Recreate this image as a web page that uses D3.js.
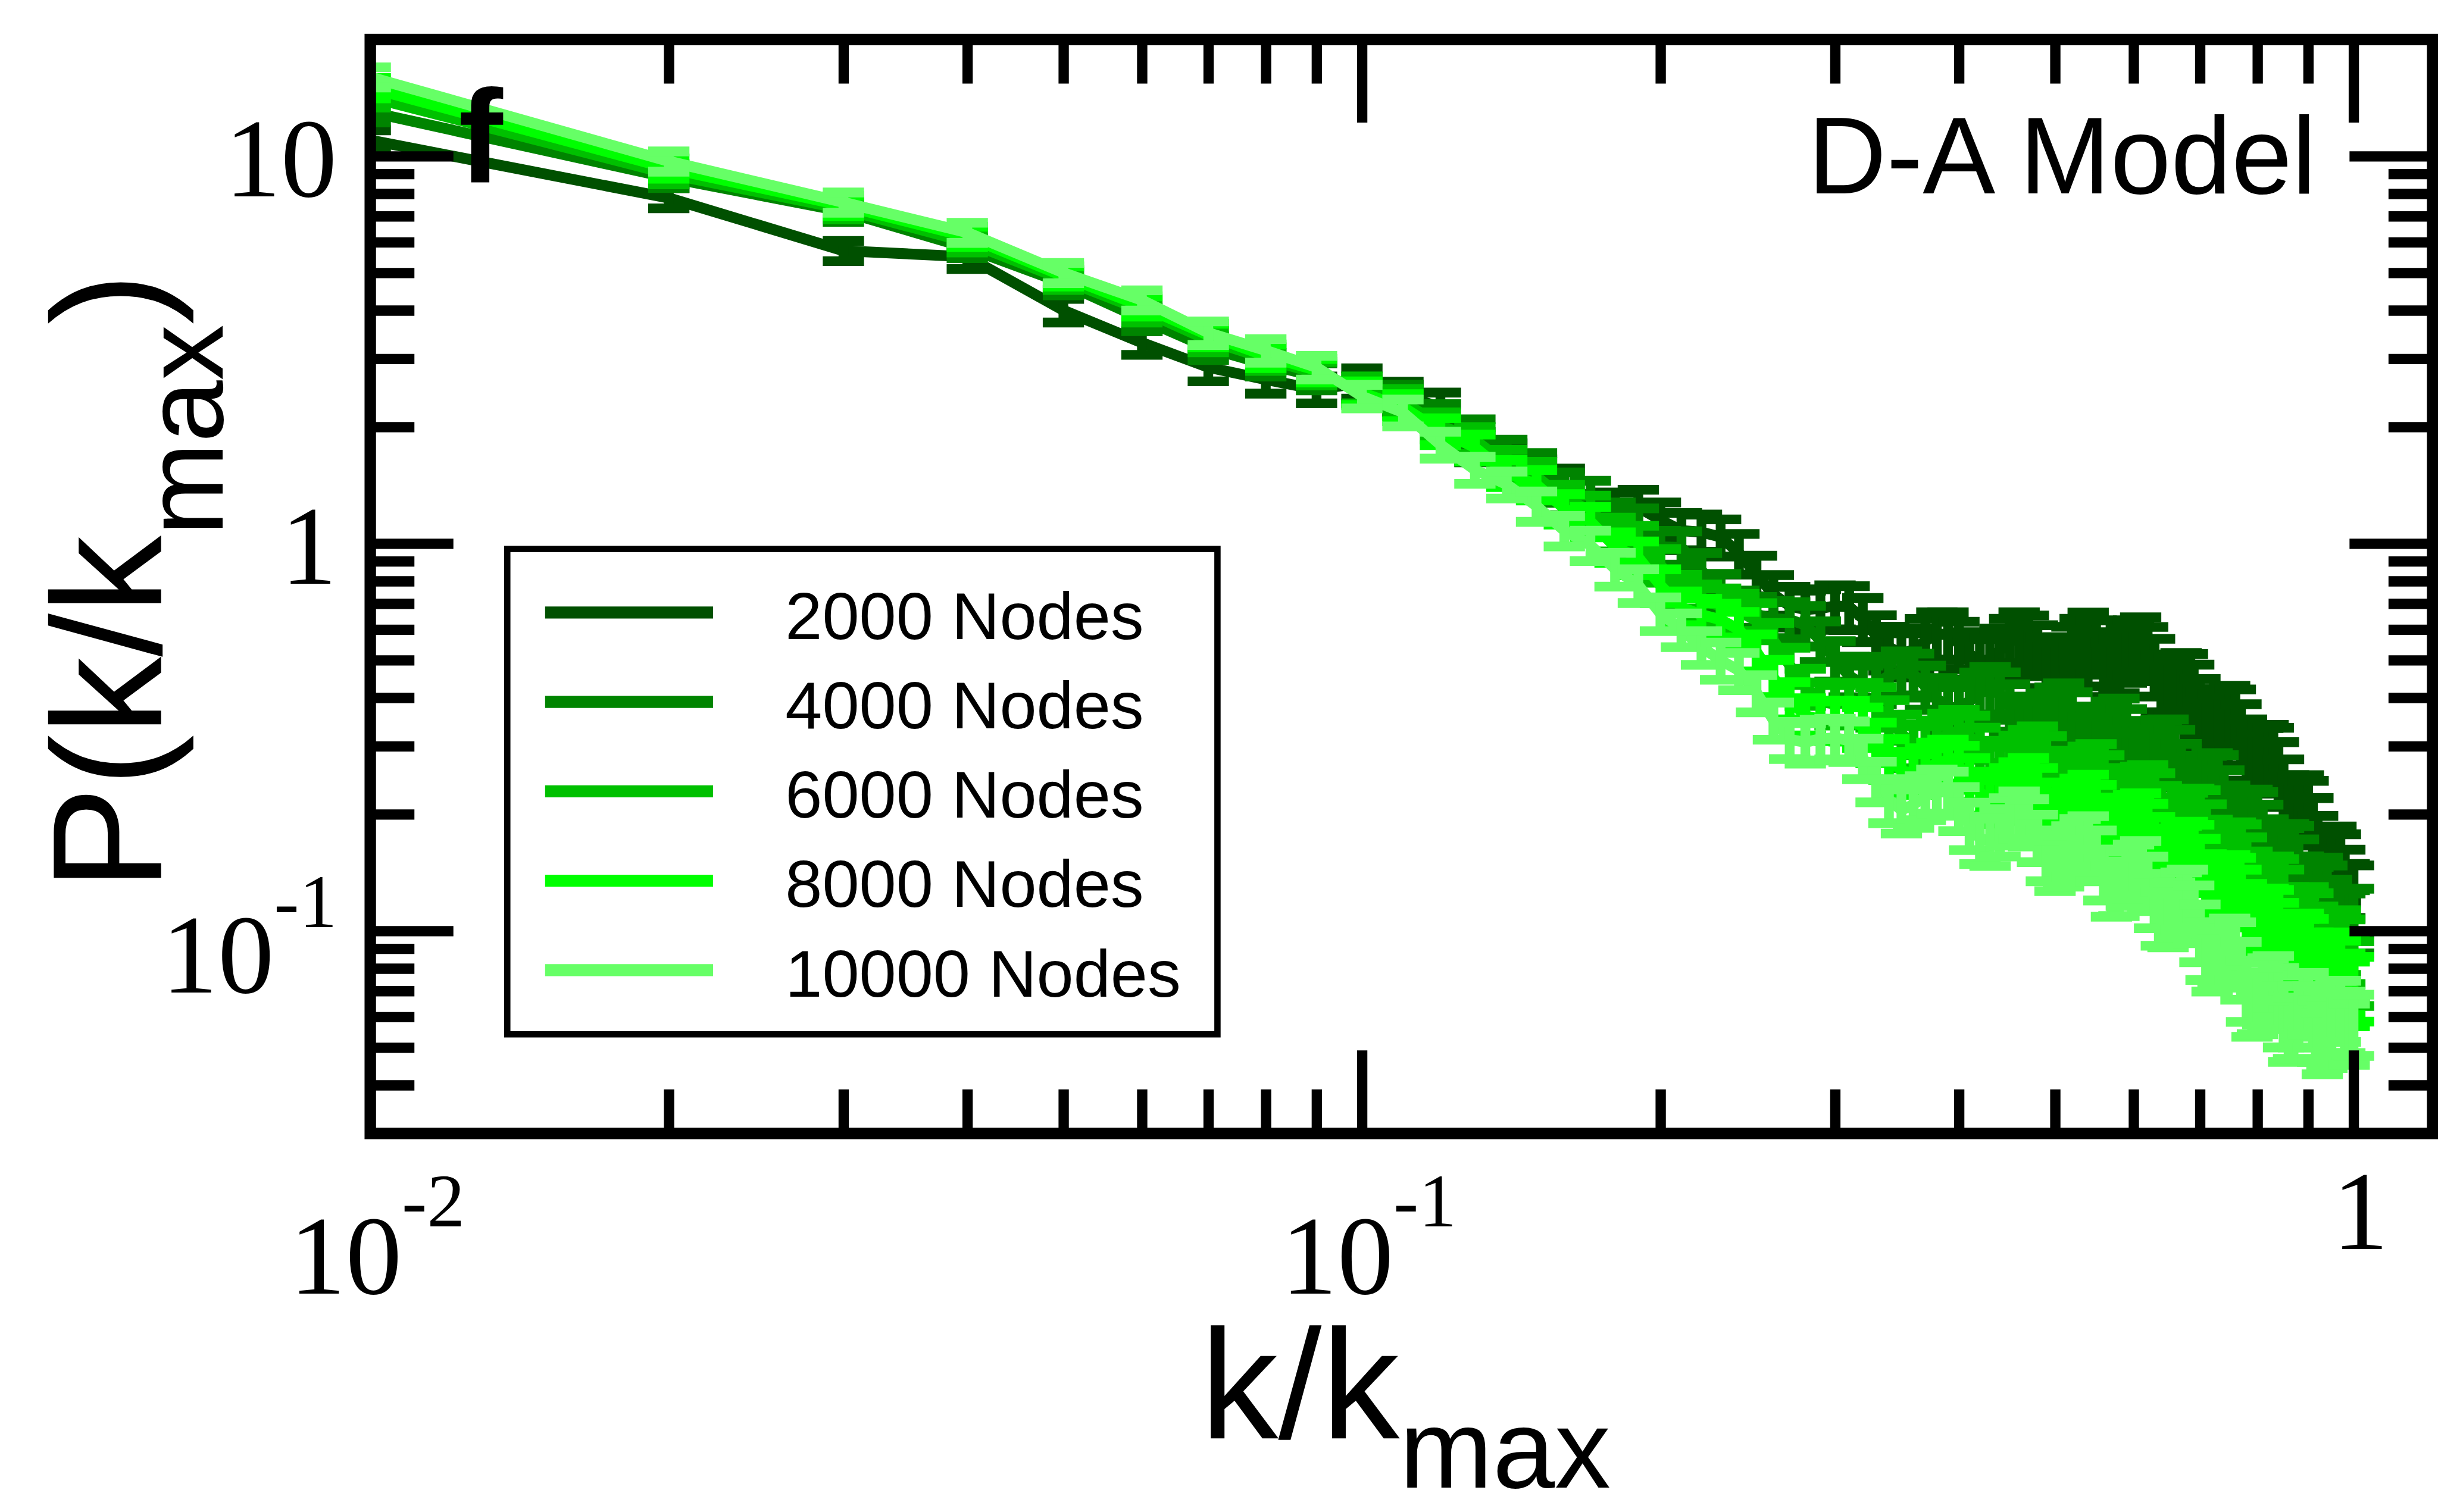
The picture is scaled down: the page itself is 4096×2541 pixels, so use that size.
<!DOCTYPE html>
<html>
<head>
<meta charset="utf-8">
<script src="https://cdn.jsdelivr.net/npm/d3@7"></script>
<style>
  html, body { margin: 0; padding: 0; background: #ffffff; }
  svg { display: block; }
</style>
</head>
<body>
<svg id="chart" width="4096" height="2541"></svg>
<script>
// ---- data: normalised degree k/k_max and P(k/k_max) per network size ----
const kRatio = [
  0.01, 0.02, 0.03, 0.04, 0.05, 0.06, 0.07, 0.08, 0.09, 0.10,
  0.11, 0.12, 0.13, 0.14, 0.15, 0.16, 0.17, 0.18, 0.19, 0.20,
  0.21, 0.22, 0.23, 0.24, 0.25, 0.26, 0.27, 0.28, 0.29, 0.30,
  0.31, 0.32, 0.33, 0.34, 0.35, 0.36, 0.37, 0.38, 0.39, 0.40,
  0.41, 0.42, 0.43, 0.44, 0.45, 0.46, 0.47, 0.48, 0.49, 0.50,
  0.51, 0.52, 0.53, 0.54, 0.55, 0.56, 0.57, 0.58, 0.59, 0.60,
  0.61, 0.62, 0.63, 0.64, 0.65, 0.66, 0.67, 0.68, 0.69, 0.70,
  0.71, 0.72, 0.73, 0.74, 0.75, 0.76, 0.77, 0.78, 0.79, 0.80,
  0.81, 0.82, 0.83, 0.84, 0.85, 0.86, 0.87, 0.88, 0.89, 0.90,
  0.91, 0.92, 0.93, 0.94, 0.95, 0.96, 0.97, 0.98, 0.99, 1.00
];

const nodes2000 = [
  11.0, 7.8, 5.7, 5.5, 4.0, 3.3, 2.85, 2.65, 2.5, 2.6,
  2.4, 2.25, 1.78, 1.65, 1.5, 1.42, 1.17, 1.22, 1.24, 1.15,
  1.08, 1.07, 1.04, 0.945, 0.83, 0.74, 0.69, 0.675, 0.68, 0.69,
  0.687, 0.64, 0.578, 0.54, 0.519, 0.532, 0.56, 0.583, 0.583, 0.551,
  0.518, 0.497, 0.502, 0.529, 0.556, 0.578, 0.567, 0.535, 0.498, 0.482,
  0.498, 0.53, 0.556, 0.572, 0.546, 0.509, 0.478, 0.489, 0.52, 0.546,
  0.556, 0.525, 0.485, 0.442, 0.428, 0.436, 0.446, 0.443, 0.416, 0.382,
  0.353, 0.337, 0.346, 0.357, 0.364, 0.356, 0.326, 0.298, 0.276, 0.276,
  0.283, 0.286, 0.281, 0.258, 0.233, 0.212, 0.207, 0.21, 0.212, 0.205,
  0.185, 0.165, 0.152, 0.15, 0.153, 0.155, 0.148, 0.135, 0.124, 0.123
];
const nodes4000 = [
  13.0, 8.8, 7.2, 5.8, 4.7, 3.8, 3.2, 2.9, 2.7, 2.5,
  2.38, 2.12, 1.92, 1.7, 1.57, 1.4, 1.32, 1.16, 1.12, 0.98,
  0.977, 0.851, 0.752, 0.681, 0.656, 0.64, 0.636, 0.616, 0.562, 0.5,
  0.456, 0.432, 0.437, 0.455, 0.466, 0.46, 0.428, 0.398, 0.377, 0.377,
  0.392, 0.411, 0.421, 0.408, 0.38, 0.353, 0.337, 0.343, 0.36, 0.373,
  0.382, 0.359, 0.33, 0.309, 0.312, 0.328, 0.34, 0.346, 0.325, 0.303,
  0.282, 0.279, 0.291, 0.302, 0.303, 0.285, 0.262, 0.242, 0.23, 0.236,
  0.244, 0.248, 0.243, 0.222, 0.203, 0.189, 0.189, 0.195, 0.198, 0.195,
  0.181, 0.166, 0.153, 0.151, 0.156, 0.16, 0.158, 0.146, 0.132, 0.123,
  0.124, 0.127, 0.131, 0.125, 0.114, 0.105, 0.106, 0.105, 0.107, 0.108
];
const nodes6000 = [
  14.2, 9.0, 7.3, 6.0, 4.8, 4.0, 3.35, 3.0, 2.75, 2.5,
  2.32, 2.02, 1.85, 1.6, 1.49, 1.3, 1.22, 1.06, 1.01, 0.88,
  0.754, 0.713, 0.69, 0.668, 0.632, 0.562, 0.485, 0.428, 0.391, 0.385,
  0.389, 0.39, 0.38, 0.352, 0.323, 0.302, 0.299, 0.309, 0.322, 0.329,
  0.318, 0.296, 0.274, 0.262, 0.267, 0.28, 0.29, 0.296, 0.279, 0.256,
  0.239, 0.241, 0.252, 0.26, 0.264, 0.247, 0.229, 0.213, 0.212, 0.222,
  0.231, 0.233, 0.22, 0.204, 0.19, 0.182, 0.188, 0.196, 0.201, 0.199,
  0.183, 0.167, 0.155, 0.156, 0.161, 0.163, 0.161, 0.149, 0.137, 0.126,
  0.125, 0.129, 0.133, 0.131, 0.122, 0.11, 0.103, 0.104, 0.107, 0.11,
  0.106, 0.098, 0.091, 0.092, 0.092, 0.095, 0.095, 0.09, 0.083, 0.079
];
const nodes8000 = [
  15.0, 9.3, 7.45, 6.2, 4.9, 4.1, 3.45, 3.05, 2.8, 2.45,
  2.25, 1.95, 1.77, 1.52, 1.42, 1.23, 1.14, 0.98, 0.92, 0.78,
  0.684, 0.655, 0.636, 0.6, 0.525, 0.451, 0.395, 0.359, 0.352, 0.351,
  0.35, 0.337, 0.308, 0.279, 0.259, 0.255, 0.262, 0.271, 0.276, 0.266,
  0.247, 0.228, 0.217, 0.221, 0.231, 0.239, 0.245, 0.231, 0.212, 0.199,
  0.2, 0.21, 0.217, 0.22, 0.207, 0.192, 0.179, 0.179, 0.187, 0.195,
  0.197, 0.185, 0.171, 0.158, 0.151, 0.156, 0.161, 0.165, 0.162, 0.149,
  0.136, 0.127, 0.127, 0.131, 0.134, 0.132, 0.123, 0.113, 0.104, 0.103,
  0.107, 0.11, 0.109, 0.101, 0.092, 0.086, 0.087, 0.091, 0.094, 0.091,
  0.084, 0.078, 0.079, 0.08, 0.083, 0.084, 0.08, 0.074, 0.07, 0.072
];
const nodes10000 = [
  16.0, 9.7, 7.6, 6.35, 5.0, 4.25, 3.5, 3.15, 2.85, 2.4,
  2.18, 1.8, 1.55, 1.42, 1.25, 1.08, 0.99, 0.86, 0.78, 0.66,
  0.6, 0.54, 0.5, 0.47, 0.412, 0.35, 0.312, 0.307, 0.313, 0.315,
  0.31, 0.28, 0.244, 0.218, 0.205, 0.212, 0.222, 0.231, 0.228, 0.208,
  0.188, 0.173, 0.171, 0.181, 0.193, 0.201, 0.192, 0.175, 0.158, 0.149,
  0.153, 0.162, 0.169, 0.172, 0.158, 0.141, 0.128, 0.13, 0.138, 0.144,
  0.147, 0.134, 0.121, 0.109, 0.108, 0.115, 0.121, 0.123, 0.112, 0.1,
  0.09, 0.084, 0.086, 0.09, 0.092, 0.09, 0.08, 0.071, 0.065, 0.066,
  0.07, 0.072, 0.073, 0.068, 0.061, 0.056, 0.057, 0.061, 0.065, 0.066,
  0.061, 0.056, 0.052, 0.054, 0.059, 0.063, 0.063, 0.059, 0.055, 0.058
];

// relative error of each point, in percent
const err2000 = [
  6, 6, 6, 7, 7, 7, 8, 8, 8, 9,
  9, 9, 9, 10, 10, 10, 10, 11, 11, 11,
  11, 11, 11, 12, 12, 12, 12, 12, 12, 13,
  13, 13, 13, 13, 13, 13, 14, 14, 14, 14,
  14, 14, 14, 14, 15, 15, 15, 15, 15, 15,
  15, 15, 15, 16, 16, 16, 16, 16, 16, 16,
  16, 16, 17, 17, 17, 17, 17, 17, 17, 17,
  17, 18, 18, 18, 18, 18, 18, 18, 18, 18,
  18, 19, 19, 19, 19, 19, 19, 19, 19, 19,
  19, 20, 20, 20, 20, 20, 20, 20, 20, 20
];
const err4000 = [
  6, 6, 6, 6, 7, 7, 7, 7, 8, 8,
  8, 8, 9, 9, 9, 9, 10, 10, 10, 10,
  10, 11, 11, 11, 11, 11, 11, 12, 12, 12,
  12, 12, 12, 12, 13, 13, 13, 13, 13, 13,
  13, 13, 14, 14, 14, 14, 14, 14, 14, 14,
  14, 15, 15, 15, 15, 15, 15, 15, 15, 15,
  15, 16, 16, 16, 16, 16, 16, 16, 16, 16,
  16, 16, 17, 17, 17, 17, 17, 17, 17, 17,
  17, 17, 17, 18, 18, 18, 18, 18, 18, 18,
  18, 18, 18, 18, 19, 19, 19, 19, 19, 19
];
const err6000 = [
  6, 6, 6, 6, 6, 7, 7, 7, 7, 8,
  8, 8, 8, 9, 9, 9, 9, 10, 10, 10,
  10, 10, 11, 11, 11, 11, 11, 11, 12, 12,
  12, 12, 12, 12, 12, 13, 13, 13, 13, 13,
  13, 13, 13, 14, 14, 14, 14, 14, 14, 14,
  14, 14, 15, 15, 15, 15, 15, 15, 15, 15,
  15, 15, 16, 16, 16, 16, 16, 16, 16, 16,
  16, 16, 16, 17, 17, 17, 17, 17, 17, 17,
  17, 17, 17, 17, 18, 18, 18, 18, 18, 18,
  18, 18, 18, 18, 18, 18, 19, 19, 19, 19
];
const err8000 = [
  6, 6, 6, 6, 6, 6, 7, 7, 7, 7,
  8, 8, 8, 8, 9, 9, 9, 9, 10, 10,
  10, 10, 10, 11, 11, 11, 11, 11, 11, 12,
  12, 12, 12, 12, 12, 12, 13, 13, 13, 13,
  13, 13, 13, 13, 14, 14, 14, 14, 14, 14,
  14, 14, 14, 15, 15, 15, 15, 15, 15, 15,
  15, 15, 15, 16, 16, 16, 16, 16, 16, 16,
  16, 16, 16, 16, 17, 17, 17, 17, 17, 17,
  17, 17, 17, 17, 17, 18, 18, 18, 18, 18,
  18, 18, 18, 18, 18, 18, 18, 18, 19, 19
];
const err10000 = [
  6, 6, 6, 6, 6, 6, 7, 7, 7, 7,
  8, 8, 8, 8, 9, 9, 9, 10, 10, 10,
  10, 10, 11, 11, 11, 11, 11, 12, 12, 12,
  12, 12, 12, 13, 13, 13, 13, 13, 13, 13,
  14, 14, 14, 14, 14, 14, 14, 14, 15, 15,
  15, 15, 15, 15, 15, 15, 15, 16, 16, 16,
  16, 16, 16, 16, 16, 16, 17, 17, 17, 17,
  17, 17, 17, 17, 17, 17, 17, 18, 18, 18,
  18, 18, 18, 18, 18, 18, 18, 18, 18, 18,
  18, 18, 18, 18, 18, 18, 18, 18, 18, 18
];

const seriesLabels = ["2000 Nodes", "4000 Nodes", "6000 Nodes", "8000 Nodes", "10000 Nodes"];
const seriesValues = [nodes2000, nodes4000, nodes6000, nodes8000, nodes10000];
const seriesErrors = [err2000, err4000, err6000, err8000, err10000];
const seriesColors = ["#005000", "#008400", "#00c000", "#00ff00", "#66ff66"];

// axis ticks
const xMajorTicks = [0.01, 0.1, 1];
const xMinorTicks = [0.02, 0.03, 0.04, 0.05, 0.06, 0.07, 0.08, 0.09,
                     0.2, 0.3, 0.4, 0.5, 0.6, 0.7, 0.8, 0.9];
const yMajorTicks = [0.1, 1, 10];
const yMinorTicks = [0.04, 0.05, 0.06, 0.07, 0.08, 0.09,
                     0.2, 0.3, 0.4, 0.5, 0.6, 0.7, 0.8, 0.9,
                     2, 3, 4, 5, 6, 7, 8, 9];
const xTickLabels = [["10", "-2"], ["10", "-1"], ["1", ""]];
const yTickLabels = [["10", "-1"], ["1", ""], ["10", ""]];

// ---- layout (drawn in a 4253 x 2638 space, scaled to the window) ----
const SCALE = 0.963;
const frame = { left: 646, right: 4244, top: 69, bottom: 1978 };
const SANS = "'Liberation Sans', Arial, Helvetica, sans-serif";
const SERIF = "'Liberation Serif', 'Times New Roman', Times, serif";

const svg = d3.select("#chart");
svg.append("rect").attr("width", 4096).attr("height", 2541).attr("fill", "#ffffff");
const root = svg.append("g").attr("transform", `scale(${SCALE})`);

const x = d3.scaleLog().domain([0.01, 1.2016]).range([frame.left, frame.right]);
const y = d3.scaleLog().domain([0.03, 20]).range([frame.bottom, frame.top]);

// clip marks to the plotting area
root.append("clipPath").attr("id", "plot-clip").append("rect")
  .attr("x", frame.left).attr("y", frame.top)
  .attr("width", frame.right - frame.left).attr("height", frame.bottom - frame.top);

const plot = root.append("g").attr("clip-path", "url(#plot-clip)");
const line = d3.line().x(d => x(d.k)).y(d => y(d.p));
const CAP = 36;

seriesValues.forEach((vals, i) => {
  const pts = kRatio.map((k, j) => ({ k, p: vals[j], e: seriesErrors[i][j] / 100 }));
  const g = plot.append("g").attr("class", "series");
  g.append("path").datum(pts)
    .attr("d", line)
    .attr("fill", "none")
    .attr("stroke", seriesColors[i])
    .attr("stroke-width", 19)
    .attr("stroke-linejoin", "miter")
    .attr("stroke-miterlimit", 2);
  // error bars with caps
  const bars = g.selectAll("g.errbar").data(pts).join("g").attr("class", "errbar")
    .attr("stroke", seriesColors[i]).attr("stroke-width", 17);
  bars.append("line")
    .attr("x1", d => x(d.k)).attr("x2", d => x(d.k))
    .attr("y1", d => y(d.p * (1 + d.e))).attr("y2", d => y(d.p * (1 - d.e)));
  bars.append("line")
    .attr("x1", d => x(d.k) - CAP).attr("x2", d => x(d.k) + CAP)
    .attr("y1", d => y(d.p * (1 + d.e))).attr("y2", d => y(d.p * (1 + d.e)));
  bars.append("line")
    .attr("x1", d => x(d.k) - CAP).attr("x2", d => x(d.k) + CAP)
    .attr("y1", d => y(d.p * (1 - d.e))).attr("y2", d => y(d.p * (1 - d.e)));
});

// panel letter
root.append("text")
  .attr("x", 800).attr("y", 319)
  .attr("font-family", SANS).attr("font-weight", "bold").attr("font-size", 232)
  .attr("fill", "#000").text("f");

// model label
root.append("text")
  .attr("x", 4041).attr("y", 337).attr("text-anchor", "end")
  .attr("font-family", SANS).attr("font-size", 190)
  .attr("fill", "#000").text("D-A Model");

// legend
const legend = root.append("g");
legend.append("rect")
  .attr("x", 885).attr("y", 958).attr("width", 1239).attr("height", 847)
  .attr("fill", "#fff").attr("stroke", "#000").attr("stroke-width", 11);
seriesLabels.forEach((lab, i) => {
  const ly = 1069 + i * 156;
  legend.append("line")
    .attr("x1", 951).attr("x2", 1244).attr("y1", ly).attr("y2", ly)
    .attr("stroke", seriesColors[i]).attr("stroke-width", 21);
  legend.append("text")
    .attr("x", 1370).attr("y", ly + 46)
    .attr("font-family", SANS).attr("font-size", 116)
    .attr("fill", "#000").text(lab);
});

// ticks, drawn inward on all four sides
function styleTicks(sel) {
  sel.select(".domain").remove();
  sel.selectAll(".tick line").attr("stroke", "#000").attr("stroke-width", 18);
  sel.selectAll(".tick text").remove();
}
const MAJOR = 145, MINOR = 77;
const axes = root.append("g");
[[xMajorTicks, MAJOR], [xMinorTicks, MINOR]].forEach(([vals, len]) => {
  axes.append("g").attr("transform", `translate(0,${frame.bottom})`)
    .call(d3.axisBottom(x).tickValues(vals).tickSize(-len).tickFormat("")).call(styleTicks);
  axes.append("g").attr("transform", `translate(0,${frame.top})`)
    .call(d3.axisTop(x).tickValues(vals).tickSize(-len).tickFormat("")).call(styleTicks);
});
[[yMajorTicks, MAJOR], [yMinorTicks, MINOR]].forEach(([vals, len]) => {
  axes.append("g").attr("transform", `translate(${frame.left},0)`)
    .call(d3.axisLeft(y).tickValues(vals).tickSize(-len).tickFormat("")).call(styleTicks);
  axes.append("g").attr("transform", `translate(${frame.right},0)`)
    .call(d3.axisRight(y).tickValues(vals).tickSize(-len).tickFormat("")).call(styleTicks);
});

// frame
root.append("rect")
  .attr("x", frame.left).attr("y", frame.top)
  .attr("width", frame.right - frame.left).attr("height", frame.bottom - frame.top)
  .attr("fill", "none").attr("stroke", "#000").attr("stroke-width", 20);

// tick labels
xMajorTicks.forEach((v, i) => {
  const [base, exp] = xTickLabels[i];
  const t = root.append("text")
    .attr("x", x(v) + 12).attr("y", exp ? 2258 : 2180)
    .attr("text-anchor", "middle")
    .attr("font-family", SERIF).attr("font-size", 196).attr("fill", "#000");
  t.append("tspan").text(base);
  if (exp) t.append("tspan").attr("dy", -118).attr("font-size", 132).text(exp);
});
yMajorTicks.forEach((v, i) => {
  const [base, exp] = yTickLabels[i];
  const t = root.append("text")
    .attr("x", 588).attr("y", y(v) + (exp ? 108 : 70))
    .attr("text-anchor", "end")
    .attr("font-family", SERIF).attr("font-size", 196).attr("fill", "#000");
  t.append("tspan").text(base);
  if (exp) t.append("tspan").attr("dy", -115).attr("font-size", 132).text(exp);
});

// axis titles
const xt = root.append("text")
  .attr("x", 2452).attr("y", 2510).attr("text-anchor", "middle")
  .attr("font-family", SANS).attr("font-size", 272).attr("fill", "#000");
xt.append("tspan").text("k/k");
xt.append("tspan").attr("dy", 86).attr("font-size", 195).text("max");

const yt = root.append("text")
  .attr("transform", "translate(281,1015) rotate(-90)")
  .attr("text-anchor", "middle")
  .attr("font-family", SANS).attr("font-size", 272).attr("fill", "#000");
yt.append("tspan").text("P(k/k");
yt.append("tspan").attr("dy", 107).attr("font-size", 195).text("max");
yt.append("tspan").attr("dy", -107).text(")");
</script>
</body>
</html>
